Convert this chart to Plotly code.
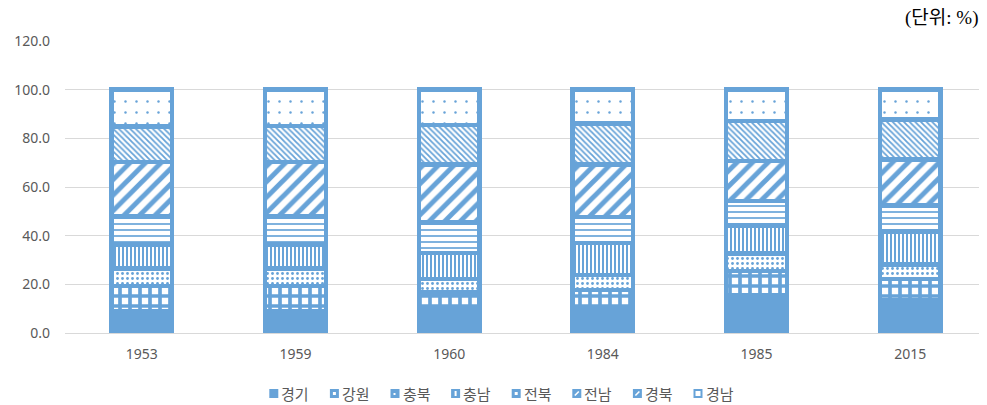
import plotly.graph_objects as go

years = ["1953", "1959", "1960", "1984", "1985", "2015"]
regions = ["경기", "강원", "충북", "충남", "전북", "전남", "경북", "경남"]

gyeonggi = [9.0, 9.0, 10.0, 10.7, 15.5, 13.5]
gangwon = [10.4, 10.3, 6.6, 6.9, 10.0, 8.6]
chungbuk = [7.2, 7.2, 5.6, 6.2, 7.2, 6.1]
chungnam = [9.7, 9.8, 10.7, 13.2, 11.5, 13.6]
jeonbuk = [11.6, 11.5, 12.5, 10.6, 10.1, 10.6]
jeonnam = [22.3, 22.4, 23.8, 21.6, 16.4, 19.0]
gyeongbuk = [14.7, 14.8, 16.3, 16.9, 16.5, 16.4]
gyeongnam = [15.1, 15.0, 14.5, 13.9, 12.8, 12.2]

series = [gyeonggi, gangwon, chungbuk, chungnam, jeonbuk, jeonnam, gyeongbuk, gyeongnam]

BLUE = "#67A3D8"
TXT = "#595959"
patterns = [
    dict(shape=""),
    dict(shape="+", size=10, solidity=0.6),
    dict(shape=".", size=5, solidity=0.25),
    dict(shape="|", size=4, solidity=0.5),
    dict(shape="-", size=6, solidity=0.28),
    dict(shape="/", size=11, solidity=0.45),
    dict(shape="\\", size=4, solidity=0.45),
    dict(shape=".", size=11, solidity=0.04),
]
# tiny white marks inside the legend swatches
legend_marks = ["none", "sq", "dot", "vbar", "sq", "diag", "diag", "bigsq"]

fig = go.Figure()
for name, vals, pat in zip(regions, series, patterns):
    if pat["shape"] == "":
        marker = dict(color=BLUE, line=dict(color=BLUE, width=4.5))
    else:
        marker = dict(
            color=BLUE,
            line=dict(color=BLUE, width=4.5),
            pattern=dict(fgcolor=BLUE, bgcolor="white", fillmode="replace", **pat),
        )
    fig.add_trace(go.Bar(x=years, y=vals, name=name, marker=marker, width=0.395,
                         showlegend=False))

# page-pixel -> paper conversion (figure drawn 8px in from page edge)
L, T, PW, PH = 57, 33, 922, 292
def fx(px):
    return (px - 8 - L) / PW
def fy(py):
    return (T + PH - (py - 8)) / PH

shapes = []
annotations = []
for i, (name, mark) in enumerate(zip(regions, legend_marks)):
    x0 = 269.3 + 60.6 * i
    y0 = 389.0
    shapes.append(dict(type="rect", xref="paper", yref="paper",
                       x0=fx(x0), x1=fx(x0 + 9), y0=fy(y0 + 9), y1=fy(y0),
                       fillcolor=BLUE, line=dict(width=0)))
    cx, cy = x0 + 4.5, y0 + 4.5
    if mark == "sq":
        shapes.append(dict(type="rect", xref="paper", yref="paper",
                           x0=fx(cx - 1.5), x1=fx(cx + 1.5), y0=fy(cy + 1.5), y1=fy(cy - 1.5),
                           fillcolor="white", line=dict(width=0)))
    elif mark == "bigsq":
        shapes.append(dict(type="rect", xref="paper", yref="paper",
                           x0=fx(cx - 2.5), x1=fx(cx + 2.5), y0=fy(cy + 2.5), y1=fy(cy - 2.5),
                           fillcolor="white", line=dict(width=0)))
    elif mark == "dot":
        shapes.append(dict(type="rect", xref="paper", yref="paper",
                           x0=fx(cx - 1.5), x1=fx(cx + 0.5), y0=fy(cy + 1.5), y1=fy(cy - 0.5),
                           fillcolor="white", line=dict(width=0)))
    elif mark == "vbar":
        shapes.append(dict(type="rect", xref="paper", yref="paper",
                           x0=fx(cx - 1), x1=fx(cx + 1), y0=fy(cy + 2.5), y1=fy(cy - 2.5),
                           fillcolor="white", line=dict(width=0)))
    elif mark == "diag":
        shapes.append(dict(type="line", xref="paper", yref="paper",
                           x0=fx(cx - 2), x1=fx(cx + 2), y0=fy(cy + 2), y1=fy(cy - 2),
                           line=dict(color="white", width=1.6)))
    annotations.append(dict(text=name, xref="paper", yref="paper",
                            x=fx(x0 + 10), xanchor="left", y=fy(393.7), yanchor="middle",
                            showarrow=False,
                            font=dict(family="Noto Sans CJK KR, sans-serif", size=15, color=TXT)))

annotations.append(dict(
    text="(단위: %)", xref="paper", yref="paper",
    x=fx(980), xanchor="right", y=fy(18), yanchor="middle", showarrow=False,
    font=dict(family="Liberation Serif, Noto Sans CJK KR, serif", size=19, color="#000000"),
))

fig.update_layout(
    barmode="stack",
    width=979,
    height=397,
    margin=dict(l=L, r=0, t=T, b=397 - T - PH),
    paper_bgcolor="white",
    plot_bgcolor="white",
    font=dict(family="Noto Sans CJK KR, Noto Sans, sans-serif", size=14, color=TXT),
    showlegend=False,
    shapes=shapes,
    annotations=annotations,
)

fig.update_xaxes(
    type="category",
    showgrid=False,
    showline=True,
    linecolor="#D9D9D9",
    linewidth=1,
    ticks="",
    ticklabelstandoff=8,
    tickfont=dict(family="Noto Sans, sans-serif", size=14, color=TXT),
)
fig.update_yaxes(
    range=[0, 120],
    dtick=20,
    tickformat=".1f",
    showgrid=True,
    gridcolor="#D9D9D9",
    gridwidth=1,
    zeroline=False,
    showline=False,
    ticks="",
    ticklabelstandoff=14,
    tickfont=dict(family="Noto Sans, sans-serif", size=14, color=TXT),
)

fig.write_html("out.html")
